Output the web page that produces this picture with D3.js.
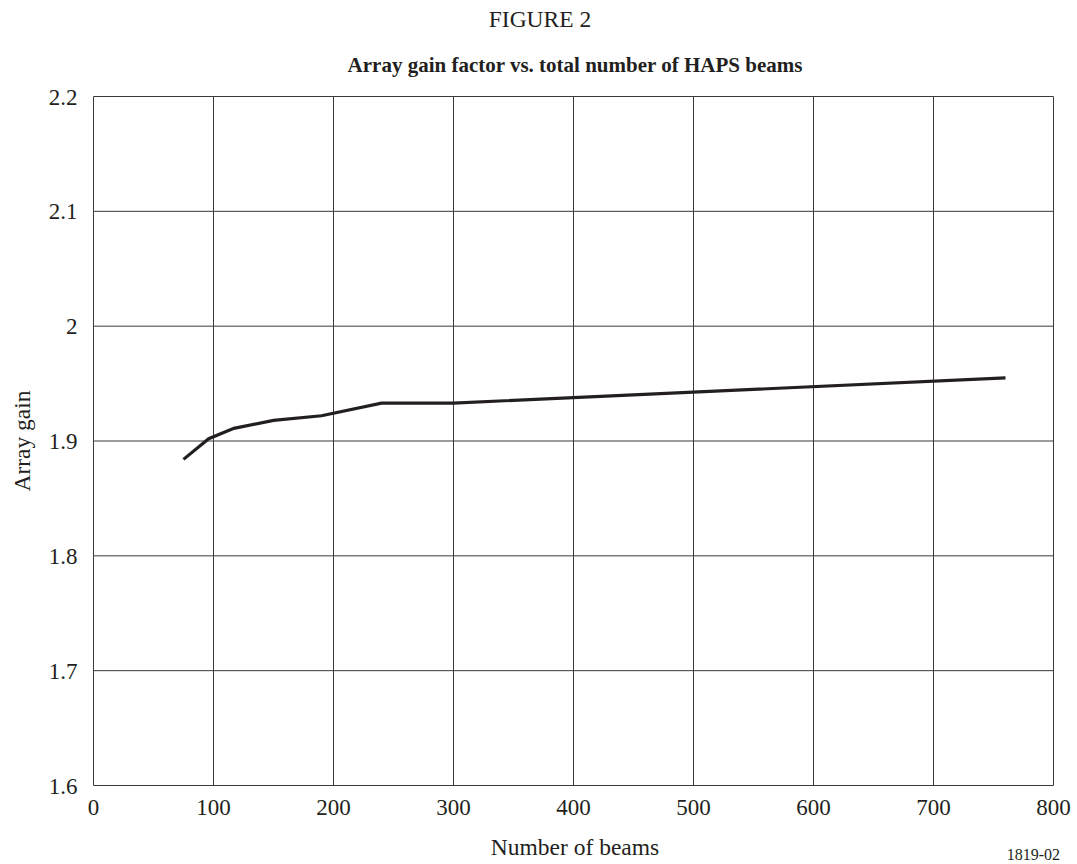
<!DOCTYPE html>
<html>
<head>
<meta charset="utf-8">
<script src="https://cdn.jsdelivr.net/npm/d3@7"></script>
<style>
  body { margin: 0; background: #fff; }
  svg text { font-family: "Liberation Serif", "Times New Roman", serif; fill: #231f20; }
</style>
</head>
<body>
<div id="chart"></div>
<script>
// values
const beams = [75, 96, 117, 150, 190, 240, 300, 760];
const gain = [1.884, 1.902, 1.911, 1.918, 1.922, 1.933, 1.933, 1.955];
const xTicks = [0, 100, 200, 300, 400, 500, 600, 700, 800];
const yTicks = [1.6, 1.7, 1.8, 1.9, 2.0, 2.1, 2.2];

const W = 1077, H = 864;
const margin = {left: 93.5, right: 23.5, top: 96.5, bottom: 78.5};

const svg = d3.select('#chart').append('svg')
  .attr('width', W)
  .attr('height', H);

const x = d3.scaleLinear().domain([0, 800]).range([margin.left, W - margin.right]);
const y = d3.scaleLinear().domain([1.6, 2.2]).range([H - margin.bottom, margin.top]);

// titles
svg.append('text')
  .attr('x', 540).attr('y', 27)
  .attr('text-anchor', 'middle')
  .attr('font-size', 23.5)
  .text('FIGURE 2');

svg.append('text')
  .attr('x', 575).attr('y', 72)
  .attr('text-anchor', 'middle')
  .attr('font-size', 21)
  .attr('font-weight', 'bold')
  .text('Array gain factor vs. total number of HAPS beams');

// grid
const grid = svg.append('g').attr('stroke', '#3a3a3a').attr('stroke-width', 1);
grid.selectAll('line.v')
  .data(xTicks)
  .join('line')
  .attr('class', 'v')
  .attr('x1', d => x(d)).attr('x2', d => x(d))
  .attr('y1', y(1.6)).attr('y2', y(2.2));
grid.selectAll('line.h')
  .data(yTicks)
  .join('line')
  .attr('class', 'h')
  .attr('x1', x(0)).attr('x2', x(800))
  .attr('y1', d => y(d)).attr('y2', d => y(d));

// tick labels
svg.append('g')
  .selectAll('text')
  .data(xTicks)
  .join('text')
  .attr('x', d => x(d))
  .attr('y', y(1.6) + 29)
  .attr('text-anchor', 'middle')
  .attr('font-size', 23)
  .text(d => d);

svg.append('g')
  .selectAll('text')
  .data(yTicks)
  .join('text')
  .attr('x', x(0) - 16)
  .attr('y', d => y(d))
  .attr('dy', '0.35em')
  .attr('text-anchor', 'end')
  .attr('font-size', 23)
  .text(d => d3.format('~g')(d));

// axis titles
svg.append('text')
  .attr('x', 575).attr('y', 855)
  .attr('text-anchor', 'middle')
  .attr('font-size', 23.5)
  .text('Number of beams');

svg.append('text')
  .attr('transform', 'translate(30,' + y(1.9) + ') rotate(-90)')
  .attr('text-anchor', 'middle')
  .attr('font-size', 23.5)
  .text('Array gain');

svg.append('text')
  .attr('x', 1060).attr('y', 860)
  .attr('text-anchor', 'end')
  .attr('font-size', 16)
  .text('1819-02');

// the curve
const line = d3.line().x((d, i) => x(beams[i])).y(d => y(d));
svg.append('path')
  .datum(gain)
  .attr('d', line)
  .attr('fill', 'none')
  .attr('stroke', '#231f20')
  .attr('stroke-width', 3.2);
</script>
</body>
</html>
